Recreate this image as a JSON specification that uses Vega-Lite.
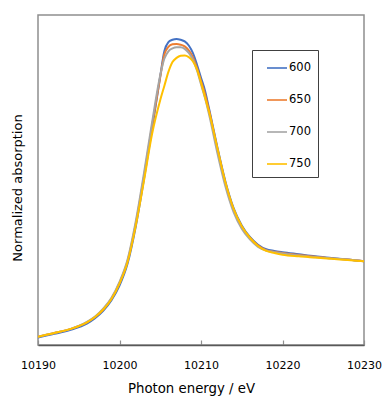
{
  "$schema": "https://vega.github.io/schema/vega-lite/v6.json",
  "width": 326,
  "height": 330,
  "autosize": {"type": "none"},
  "padding": {"left": 38, "top": 15, "right": 18, "bottom": 51},
  "background": "white",
  "config": {
    "view": {"stroke": "#8f8f8f", "strokeWidth": 1.5},
    "font": "DejaVu Sans"
  },
  "datasets": {
    "spectra": [
{"E":10190,"s":"600","a":0.09},{"E":10192,"s":"600","a":0.135},{"E":10194,"s":"600","a":0.185},{"E":10196,"s":"600","a":0.26},{"E":10197,"s":"600","a":0.325},{"E":10198,"s":"600","a":0.415},{"E":10199,"s":"600","a":0.54},{"E":10200,"s":"600","a":0.72},{"E":10201,"s":"600","a":0.99},{"E":10202,"s":"600","a":1.44},{"E":10203,"s":"600","a":2.01},{"E":10204,"s":"600","a":2.62},{"E":10205,"s":"600","a":3.26},{"E":10205.5,"s":"600","a":3.56},{"E":10206,"s":"600","a":3.67},{"E":10206.5,"s":"600","a":3.70},{"E":10207,"s":"600","a":3.71},{"E":10207.5,"s":"600","a":3.70},{"E":10208,"s":"600","a":3.68},{"E":10208.5,"s":"600","a":3.63},{"E":10209,"s":"600","a":3.54},{"E":10209.5,"s":"600","a":3.40},{"E":10210,"s":"600","a":3.24},{"E":10210.5,"s":"600","a":3.08},{"E":10211,"s":"600","a":2.86},{"E":10212,"s":"600","a":2.40},{"E":10213,"s":"600","a":1.98},{"E":10214,"s":"600","a":1.66},{"E":10215,"s":"600","a":1.45},{"E":10216,"s":"600","a":1.31},{"E":10217,"s":"600","a":1.215},{"E":10218,"s":"600","a":1.16},{"E":10219,"s":"600","a":1.14},{"E":10220,"s":"600","a":1.125},{"E":10222,"s":"600","a":1.10},{"E":10224,"s":"600","a":1.075},{"E":10226,"s":"600","a":1.055},{"E":10228,"s":"600","a":1.035},{"E":10230,"s":"600","a":1.015},
{"E":10190,"s":"650","a":0.10},{"E":10192,"s":"650","a":0.145},{"E":10194,"s":"650","a":0.195},{"E":10196,"s":"650","a":0.275},{"E":10197,"s":"650","a":0.34},{"E":10198,"s":"650","a":0.43},{"E":10199,"s":"650","a":0.56},{"E":10200,"s":"650","a":0.75},{"E":10201,"s":"650","a":1.02},{"E":10202,"s":"650","a":1.47},{"E":10203,"s":"650","a":2.04},{"E":10204,"s":"650","a":2.66},{"E":10205,"s":"650","a":3.25},{"E":10205.5,"s":"650","a":3.52},{"E":10206,"s":"650","a":3.615},{"E":10206.5,"s":"650","a":3.645},{"E":10207,"s":"650","a":3.65},{"E":10207.5,"s":"650","a":3.64},{"E":10208,"s":"650","a":3.62},{"E":10208.5,"s":"650","a":3.57},{"E":10209,"s":"650","a":3.49},{"E":10209.5,"s":"650","a":3.36},{"E":10210,"s":"650","a":3.20},{"E":10210.5,"s":"650","a":3.04},{"E":10211,"s":"650","a":2.84},{"E":10212,"s":"650","a":2.38},{"E":10213,"s":"650","a":1.96},{"E":10214,"s":"650","a":1.64},{"E":10215,"s":"650","a":1.43},{"E":10216,"s":"650","a":1.30},{"E":10217,"s":"650","a":1.205},{"E":10218,"s":"650","a":1.15},{"E":10219,"s":"650","a":1.13},{"E":10220,"s":"650","a":1.115},{"E":10222,"s":"650","a":1.09},{"E":10224,"s":"650","a":1.07},{"E":10226,"s":"650","a":1.05},{"E":10228,"s":"650","a":1.035},{"E":10230,"s":"650","a":1.015},
{"E":10190,"s":"700","a":0.10},{"E":10192,"s":"700","a":0.145},{"E":10194,"s":"700","a":0.195},{"E":10196,"s":"700","a":0.28},{"E":10197,"s":"700","a":0.345},{"E":10198,"s":"700","a":0.44},{"E":10199,"s":"700","a":0.57},{"E":10200,"s":"700","a":0.765},{"E":10201,"s":"700","a":1.04},{"E":10202,"s":"700","a":1.50},{"E":10203,"s":"700","a":2.08},{"E":10204,"s":"700","a":2.70},{"E":10205,"s":"700","a":3.27},{"E":10205.5,"s":"700","a":3.47},{"E":10206,"s":"700","a":3.56},{"E":10206.5,"s":"700","a":3.595},{"E":10207,"s":"700","a":3.61},{"E":10207.5,"s":"700","a":3.61},{"E":10208,"s":"700","a":3.59},{"E":10208.5,"s":"700","a":3.54},{"E":10209,"s":"700","a":3.46},{"E":10209.5,"s":"700","a":3.33},{"E":10210,"s":"700","a":3.16},{"E":10210.5,"s":"700","a":2.99},{"E":10211,"s":"700","a":2.79},{"E":10212,"s":"700","a":2.33},{"E":10213,"s":"700","a":1.92},{"E":10214,"s":"700","a":1.61},{"E":10215,"s":"700","a":1.41},{"E":10216,"s":"700","a":1.28},{"E":10217,"s":"700","a":1.19},{"E":10218,"s":"700","a":1.145},{"E":10219,"s":"700","a":1.125},{"E":10220,"s":"700","a":1.11},{"E":10222,"s":"700","a":1.085},{"E":10224,"s":"700","a":1.065},{"E":10226,"s":"700","a":1.05},{"E":10228,"s":"700","a":1.035},{"E":10230,"s":"700","a":1.015},
{"E":10190,"s":"750","a":0.10},{"E":10192,"s":"750","a":0.145},{"E":10194,"s":"750","a":0.195},{"E":10196,"s":"750","a":0.275},{"E":10197,"s":"750","a":0.34},{"E":10198,"s":"750","a":0.43},{"E":10199,"s":"750","a":0.555},{"E":10200,"s":"750","a":0.745},{"E":10201,"s":"750","a":1.01},{"E":10202,"s":"750","a":1.45},{"E":10203,"s":"750","a":1.99},{"E":10204,"s":"750","a":2.56},{"E":10205,"s":"750","a":2.97},{"E":10205.5,"s":"750","a":3.14},{"E":10206,"s":"750","a":3.31},{"E":10206.5,"s":"750","a":3.43},{"E":10207,"s":"750","a":3.48},{"E":10207.5,"s":"750","a":3.505},{"E":10208,"s":"750","a":3.51},{"E":10208.5,"s":"750","a":3.49},{"E":10209,"s":"750","a":3.44},{"E":10209.5,"s":"750","a":3.34},{"E":10210,"s":"750","a":3.18},{"E":10210.5,"s":"750","a":3.00},{"E":10211,"s":"750","a":2.82},{"E":10212,"s":"750","a":2.39},{"E":10213,"s":"750","a":1.97},{"E":10214,"s":"750","a":1.65},{"E":10215,"s":"750","a":1.44},{"E":10216,"s":"750","a":1.30},{"E":10217,"s":"750","a":1.20},{"E":10218,"s":"750","a":1.14},{"E":10219,"s":"750","a":1.115},{"E":10220,"s":"750","a":1.095},{"E":10222,"s":"750","a":1.075},{"E":10224,"s":"750","a":1.06},{"E":10226,"s":"750","a":1.045},{"E":10228,"s":"750","a":1.03},{"E":10230,"s":"750","a":1.015}
    ]
  },
  "data": {"name": "spectra"},
  "mark": {"type": "line", "interpolate": "monotone", "strokeWidth": 2, "clip": true},
  "encoding": {
    "x": {
      "field": "E", "type": "quantitative",
      "scale": {"domain": [10190, 10230], "nice": false, "zero": false},
      "axis": {
        "title": "Photon energy / eV",
        "values": [10190, 10200, 10210, 10220, 10230],
        "format": "d",
        "grid": false,
        "domainColor": "#595959",
        "domainWidth": 1.5,
        "tickColor": "#8f8f8f",
        "tickSize": -5,
        "tickWidth": 1.2,
        "labelPadding": 19,
        "labelFont": "DejaVu Sans",
        "labelFontSize": 11,
        "labelColor": "#000000",
        "labelFlush": false,
        "titleFont": "DejaVu Sans",
        "titleFontSize": 13.3,
        "titleFontWeight": "normal",
        "titleColor": "#000000",
        "titleX": 153,
        "titleY": 47.5,
        "titleBaseline": "alphabetic",
        "titleAnchor": null
      }
    },
    "y": {
      "field": "a", "type": "quantitative",
      "scale": {"domain": [0, 4], "nice": false, "zero": false},
      "axis": {
        "title": "Normalized absorption",
        "labels": false,
        "ticks": false,
        "domain": false,
        "grid": false,
        "titleFont": "DejaVu Sans",
        "titleFontSize": 13,
        "titleFontWeight": "normal",
        "titleColor": "#000000",
        "titleAngle": 270,
        "titleAlign": "center",
        "titleBaseline": "middle",
        "titleX": -20.5,
        "titleY": 172.5
      }
    },
    "color": {
      "field": "s", "type": "nominal",
      "scale": {"domain": ["600", "650", "700", "750"], "range": ["#4472C4", "#ED7D31", "#A5A5A5", "#FFC000"]},
      "legend": {
        "title": null,
        "orient": "none",
        "legendX": 214,
        "legendY": 35,
        "symbolType": "stroke",
        "symbolSize": 400,
        "symbolStrokeWidth": 1.6,
        "symbolOffset": 7,
        "labelFont": "DejaVu Sans",
        "labelFontSize": 11.5,
        "labelColor": "#000000",
        "labelOffset": 1,
        "rowPadding": 15,
        "padding": 7,
        "strokeColor": "#404040",
        "fillColor": "white"
      }
    }
  }
}
